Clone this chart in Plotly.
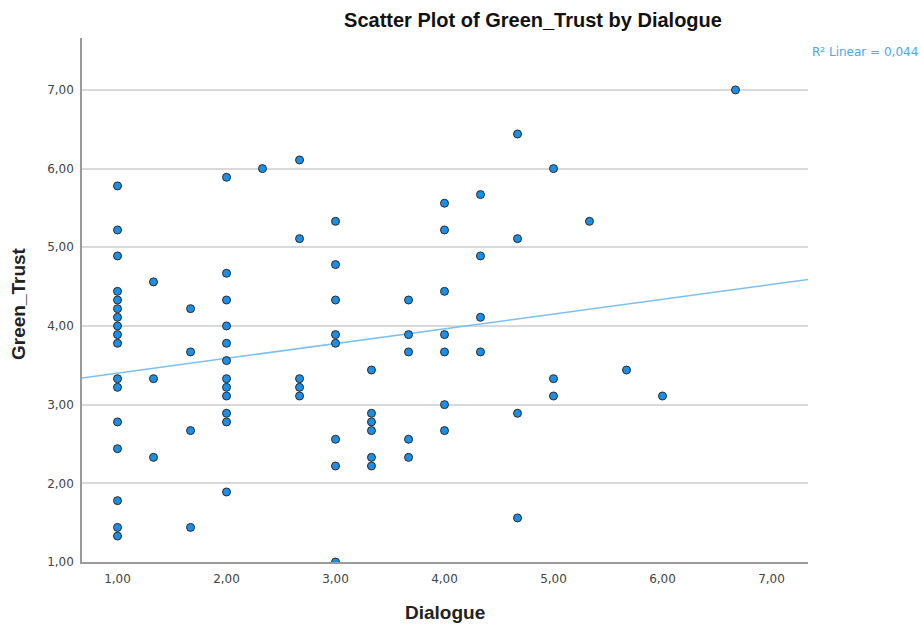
import numpy as np
import plotly.graph_objects as go

# Data (Dialogue -> Green_Trust values)
dialogue_levels = [1.00, 1.33, 1.67, 2.00, 2.33, 2.67, 3.00, 3.33, 3.67, 4.00,
                   4.33, 4.67, 5.00, 5.33, 5.67, 6.00, 6.67]
trust_at_1_00 = [5.78, 5.22, 4.89, 4.44, 4.33, 4.22, 4.11, 4.00, 3.89, 3.78,
                 3.33, 3.22, 2.78, 2.44, 1.78, 1.44, 1.33]
trust_at_1_33 = [4.56, 3.33, 2.33]
trust_at_1_67 = [4.22, 3.67, 2.67, 1.44]
trust_at_2_00 = [5.89, 4.67, 4.33, 4.00, 3.78, 3.56, 3.33, 3.22, 3.11, 2.89, 2.78, 1.89]
trust_at_2_33 = [6.00]
trust_at_2_67 = [6.11, 5.11, 3.33, 3.22, 3.11]
trust_at_3_00 = [5.33, 4.78, 4.33, 3.89, 3.78, 2.56, 2.22, 1.00]
trust_at_3_33 = [3.44, 2.89, 2.78, 2.67, 2.33, 2.22]
trust_at_3_67 = [4.33, 3.89, 3.67, 2.56, 2.33]
trust_at_4_00 = [5.56, 5.22, 4.44, 3.89, 3.67, 3.00, 2.67]
trust_at_4_33 = [5.67, 4.89, 4.11, 3.67]
trust_at_4_67 = [6.44, 5.11, 2.89, 1.56]
trust_at_5_00 = [6.00, 3.33, 3.11]
trust_at_5_33 = [5.33]
trust_at_5_67 = [3.44]
trust_at_6_00 = [3.11]
trust_at_6_67 = [7.00]

# Linear fit as shown in the reference (R² = 0,044)
fit_intercept = 3.213
fit_slope = 0.1877

tick_values = [1, 2, 3, 4, 5, 6, 7]
tick_labels = ["1,00", "2,00", "3,00", "4,00", "5,00", "6,00", "7,00"]
r2_label = "R² Linear = 0,044"
x_title = "Dialogue"
y_title = "Green_Trust"
chart_title = "Scatter Plot of Green_Trust by Dialogue"

groups = [trust_at_1_00, trust_at_1_33, trust_at_1_67, trust_at_2_00, trust_at_2_33,
          trust_at_2_67, trust_at_3_00, trust_at_3_33, trust_at_3_67, trust_at_4_00,
          trust_at_4_33, trust_at_4_67, trust_at_5_00, trust_at_5_33, trust_at_5_67,
          trust_at_6_00, trust_at_6_67]

xs, ys = [], []
for lvl, vals in zip(dialogue_levels, groups):
    for v in vals:
        xs.append(lvl)
        ys.append(v)

x_range = [0.674, 7.335]
y_range = [1.0, 7.66]

fit_x = np.array(x_range)
fit_y = fit_intercept + fit_slope * fit_x

FONT = "Liberation Sans, Arial, sans-serif"
TICK_FONT = "DejaVu Sans, Verdana, sans-serif"

L, R, T, B = 82, 114, 38, 65
W, H = 922, 627
PW, PH = W - L - R, H - T - B


def px_x(p):
    return (p - L) / PW


def px_y(p):
    return 1 - (p - T) / PH


fig = go.Figure()
fig.add_trace(go.Scatter(
    x=fit_x, y=fit_y, mode="lines",
    line=dict(color="#7dc0f0", width=1.5),
    hoverinfo="skip", showlegend=False,
))
fig.add_trace(go.Scatter(
    x=xs, y=ys, mode="markers",
    marker=dict(size=8, color="#1b8ee6", line=dict(color="#2a2a2a", width=1)),
    showlegend=False,
))

fig.update_layout(
    width=W, height=H,
    margin=dict(l=L, r=R, t=T, b=B),
    paper_bgcolor="white", plot_bgcolor="white",
    font=dict(family=FONT, color="#333333"),
    title=dict(text="<b>" + chart_title + "</b>",
               x=533 / W, xanchor="center", y=1 - 20 / H, yanchor="middle",
               font=dict(size=20, color="#111111", family=FONT)),
    xaxis=dict(
        range=x_range, tickmode="array", tickvals=tick_values, ticktext=tick_labels,
        showgrid=False, zeroline=False, automargin=False,
        showline=True, linecolor="#9a9a9a", linewidth=1.5,
        ticks="", ticklen=0, ticklabelstandoff=5,
        tickfont=dict(size=12, color="#444444", family=TICK_FONT),
    ),
    yaxis=dict(
        range=y_range, tickmode="array", tickvals=tick_values, ticktext=tick_labels,
        showgrid=True, gridcolor="#d9d9d9", gridwidth=2, zeroline=False, automargin=False,
        showline=True, linecolor="#9a9a9a", linewidth=1.5,
        ticks="", ticklen=0, ticklabelstandoff=4,
        tickfont=dict(size=12, color="#444444", family=TICK_FONT),
    ),
)

fig.add_annotation(
    text="<b>" + x_title + "</b>", xref="paper", yref="paper",
    x=px_x(445), xanchor="center", y=px_y(612), yanchor="middle",
    showarrow=False, font=dict(size=19, color="#222222", family=FONT),
)
fig.add_annotation(
    text="<b>" + y_title + "</b>", xref="paper", yref="paper",
    x=px_x(18), xanchor="center", y=px_y(304), yanchor="middle",
    textangle=-90,
    showarrow=False, font=dict(size=19, color="#222222", family=FONT),
)
fig.add_annotation(
    text=r2_label, xref="paper", yref="paper",
    x=px_x(920), xanchor="right", y=px_y(52), yanchor="middle",
    showarrow=False, font=dict(size=12, color="#4aa8ee", family=TICK_FONT),
)

fig.write_html("out.html")
